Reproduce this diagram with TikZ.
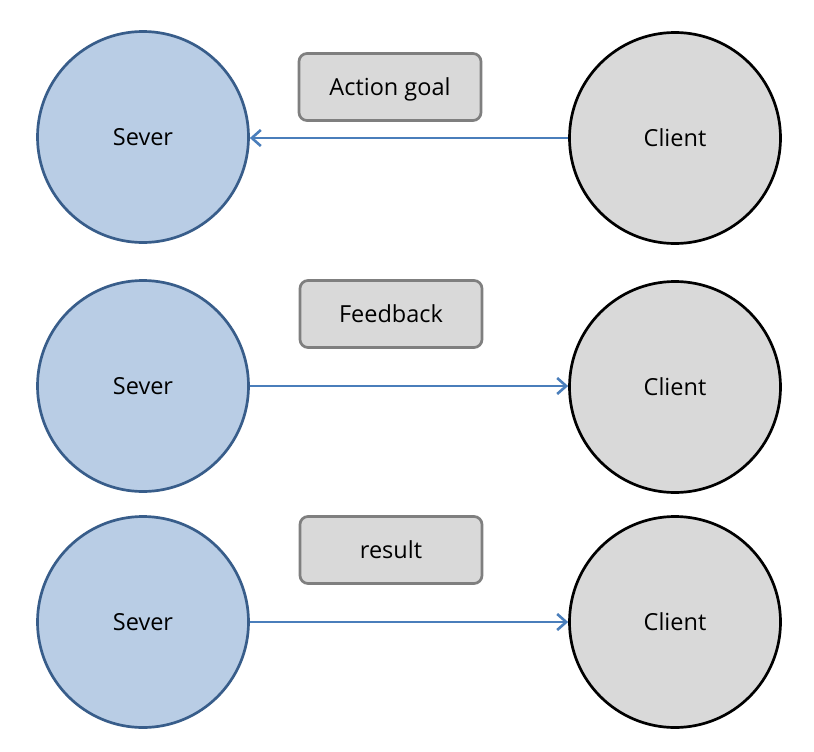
\documentclass[tikz,border=0pt]{standalone}
\usepackage{fontspec}
\setmainfont{Open Sans}
\usetikzlibrary{arrows.meta}
\definecolor{srvfill}{HTML}{B9CDE5}
\definecolor{srvline}{HTML}{385D8A}
\definecolor{cltfill}{HTML}{D9D9D9}
\definecolor{boxline}{HTML}{7F7F7F}
\definecolor{arr}{HTML}{4A7EBB}
\tikzset{txt/.style={font=\fontsize{23.5}{28}\selectfont,text depth=0pt}}
\begin{document}
\begin{tikzpicture}[x=1pt,y=-1pt,
  server/.style={circle,draw=srvline,fill=srvfill,line width=2.7pt,minimum size=211pt,inner sep=0pt,txt},
  client/.style={circle,draw=black,fill=cltfill,line width=2.7pt,minimum size=211pt,inner sep=0pt,txt},
  labelbox/.style={rectangle,rounded corners=8pt,draw=boxline,fill=cltfill,line width=2.7pt,minimum width=182pt,minimum height=67pt,inner sep=0pt,txt},
  link/.style={draw=arr,line width=2.8pt,-{Straight Barb[length=9pt,width=16pt,line width=2.6pt]}}]
\useasboundingbox (0,0) rectangle (814,752);
\node[server] (s1) at (143,137) {Sever};
\node[client] (c1) at (675,138) {Client};
\node[labelbox] (b1) at (390,87) {Action goal};
\node[server] (s2) at (143,386) {Sever};
\node[client] (c2) at (675,387) {Client};
\node[labelbox] (b2) at (391,314) {Feedback};
\node[server] (s3) at (143,622) {Sever};
\node[client] (c3) at (675,622) {Client};
\node[labelbox] (b3) at (391,550) {result};
\draw[link] (c1.west) -- (s1.east |- c1.west);
\draw[link] (s2.east) -- (c2.west |- s2.east);
\draw[link] (s3.east) -- (c3.west |- s3.east);
\end{tikzpicture}
\end{document}
